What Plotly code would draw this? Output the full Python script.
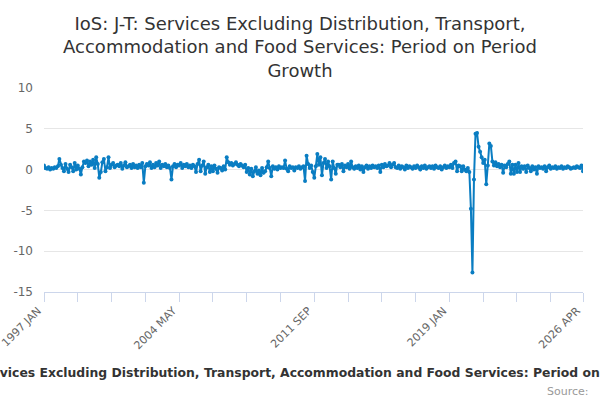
import pandas as pd
import plotly.graph_objects as go

# monthly categories 1997 JAN .. 2026 APR
months = [d.strftime("%Y %b").upper() for d in pd.date_range("1997-01-01", "2026-04-01", freq="MS")]

growth = [
    0.5, 0.2, 0.1, 0.3, 0.0, 0.2, 0.1, 0.3, 0.2, 0.4, 1.3, 0.6,          # 1997
    0.2, -0.2, 0.7, 0.1, -0.3, 0.6, 0.3, -0.2, 0.8, 0.0, 0.5, 0.1,       # 1998
    -0.6, 0.3, 1.0, 0.8, 1.1, 0.4, 1.0, 0.6, 1.2, 0.2, 1.5, 0.7,         # 1999
    -1.0, -0.3, 0.9, 1.3, -0.2, 0.3, 1.5, 0.2, 0.6, 0.8, 0.3, 0.5,       # 2000
    0.6, 0.4, 0.8, 0.1, 0.5, 0.9, 0.3, 0.4, 0.6, 0.2, 0.7, 0.3,          # 2001
    0.5, 0.2, 0.6, 0.3, 0.8, -1.6, 0.4, 0.7, 0.5, 0.9, 0.2, 0.6,         # 2002
    0.3, 0.8, 0.5, 1.0, 0.2, 0.6, 0.4, 0.7, 0.3, 0.5, 0.2, -1.2,         # 2003
    0.4, 0.7, 0.3, 0.6, 0.5, 0.8, 0.2, 0.6, 0.4, 0.7, 0.3, 0.5,          # 2004
    0.2, 0.6, 0.4, -0.3, 0.7, 1.2, -0.2, 0.5, 1.0, -0.5, 0.3, 0.6,       # 2005
    -0.3, 0.4, -0.2, 0.5, 0.1, -0.4, 0.3, 0.2, -0.1, 0.4, 0.0, 1.5,      # 2006
    0.9, 0.6, 0.8, 0.5, 0.7, 0.9, 0.6, 0.4, 0.7, 0.5, 0.3, 0.6,          # 2007
    -0.3, 0.2, -0.6, 0.1, -0.8, -0.2, 0.3, -0.5, -0.1, -0.7, 0.2, -0.4,  # 2008
    -0.2, 0.3, 1.0, 0.2, -0.8, 0.4, 0.1, 0.3, 0.0, 0.4, 0.2, 0.3,        # 2009
    0.2, 1.1, 0.1, -0.2, 0.4, 0.2, 0.3, -0.1, 0.3, 0.2, 0.4, 0.1,        # 2010
    0.3, 0.4, -1.4, 1.7, 0.7, 0.2, 0.5, -0.3, -1.0, 0.4, 1.9, 0.6,       # 2011
    1.5, -0.7, 0.8, 1.3, 0.2, 1.0, 0.4, -1.2, 1.0, 0.2, -0.5, 0.6,       # 2012
    0.6, 0.3, 0.7, -0.2, 0.5, 0.3, 0.7, 0.1, 1.0, 0.3, 0.1, 0.4,         # 2013
    0.2, 0.5, 0.0, 0.4, -0.3, 0.3, 0.5, 0.1, 0.4, 0.2, 0.5, 0.3,         # 2014
    0.4, 0.2, 0.5, -0.3, 0.6, 0.3, 0.7, 0.4, 0.5, 0.8, 0.3, 0.6,         # 2015
    0.8, 0.3, 0.2, 0.5, 0.1, 0.4, 0.3, 0.0, 0.5, 0.2, 0.4, 0.3,          # 2016
    0.1, 0.4, 0.2, 0.5, 0.3, 0.0, 0.4, 0.2, 0.5, 0.1, 0.3, 0.4,          # 2017
    0.2, 0.4, 0.1, 0.5, 0.3, 0.2, 0.4, 0.0, 0.3, 0.5, 0.2, 0.4,          # 2018
    0.3, 0.6, 0.2, 0.8, 1.0, -0.2, 0.5, 0.4, -0.2, 0.4, 0.0, -0.2,       # 2019
    0.2, -0.3, -4.8, -12.6, -1.2, 4.4, 4.5, 2.8, 2.2, 1.5, 0.8, 1.2,     # 2020
    -1.8, 0.5, 3.2, 2.9, 1.0, 0.5, 0.9, 0.4, 0.7, 0.3, 0.6, -0.4,        # 2021
    0.5, 0.3, 0.7, 1.0, -0.5, 0.6, -0.5, 0.6, -0.3, 0.8, -0.3, 0.4,      # 2022
    0.1, 0.4, -0.3, 0.5, 0.2, -0.2, 0.4, 0.0, 0.3, -0.5, 0.4, 0.2,       # 2023
    0.3, 0.1, 0.4, -0.2, 0.3, 0.5, 0.1, 0.3, 0.2, 0.4, 0.1, 0.3,         # 2024
    0.2, 0.4, 0.1, 0.3, 0.2, 0.4, 0.3, 0.1, 0.2, 0.3, 0.2, 0.4,          # 2025
    0.3, 0.2, 0.5, -0.2,                                                 # 2026
]

title = "IoS: J-T: Services Excluding Distribution, Transport, Accommodation and Food Services: Period on Period Growth"
labelled = ["1997 JAN", "2004 MAY", "2011 SEP", "2019 JAN", "2026 APR"]
y_ticks = [-15, -10, -5, 0, 5, 10]

tick_idx = list(range(0, len(months) - 1, 22)) + [len(months) - 1]
tickvals = [months[i] for i in tick_idx]
ticktext = [m if m in labelled else "" for m in tickvals]

fig = go.Figure()
fig.add_trace(go.Scatter(
    x=months, y=growth, mode="lines+markers",
    line=dict(color="#0a7dc2", width=2),
    marker=dict(color="#0a7dc2", size=4),
    showlegend=False,
))

fig.update_layout(
    width=600, height=400,
    margin=dict(l=44, r=17, t=88, b=108),
    paper_bgcolor="white", plot_bgcolor="white",
    font=dict(family="DejaVu Sans", color="#666666"),
    title=dict(
        text="IoS: J-T: Services Excluding Distribution, Transport,<br>"
             "Accommodation and Food Services: Period on Period<br>Growth",
        x=0.5, xanchor="center", y=0.925, yanchor="top",
        font=dict(size=18, color="#333333"),
    ),
)
fig.update_xaxes(
    type="category", range=[0, len(months) - 1], automargin=False,
    tickmode="array", tickvals=tickvals, ticktext=ticktext,
    tickangle=-45, tickfont=dict(size=11, color="#666666"),
    ticks="outside", ticklen=9, tickcolor="#ccd6eb",
    ticklabelshift=-6, ticklabelstandoff=-2,
    showline=True, linecolor="#ccd6eb", linewidth=1,
    showgrid=False,
)
fig.update_yaxes(
    range=[-15, 10], automargin=False,
    tickmode="array", tickvals=y_ticks, ticktext=[str(v) for v in y_ticks],
    gridcolor="#e6e6e6", zeroline=False,
    tickfont=dict(size=12, color="#666666"),
    ticks="", showline=False, ticklabelstandoff=10,
)

fig.add_annotation(
    text="<b>" + title + "</b>", x=0.5, xref="paper", xshift=-1,
    y=-0.397, yref="paper", yanchor="middle", showarrow=False,
    font=dict(size=12.4, color="#333333"),
)
fig.add_annotation(
    text="Source:", x=1.0, xref="paper", xanchor="right", xshift=8,
    y=-0.49, yref="paper", yanchor="middle", showarrow=False,
    font=dict(size=11, color="#999999"),
)

fig.write_html("out.html", config={"displayModeBar": False},
               post_script="document.body.style.margin='0';")
